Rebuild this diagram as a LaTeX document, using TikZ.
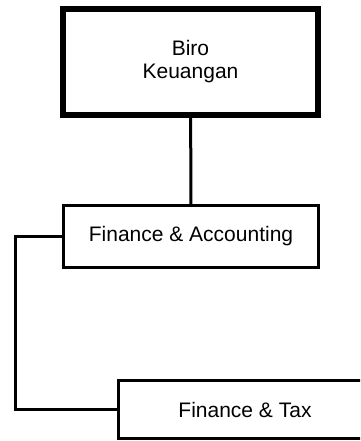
\documentclass[tikz,border=0pt]{standalone}
\usepackage{fontspec}
\setmainfont{Liberation Sans}
\usepackage{tikz}

\begin{document}
\begin{tikzpicture}[x=1pt,y=-1pt]
		\tikzstyle{every node}=[draw,rectangle,font=\fontsize{21}{23}\selectfont]
		\tikzstyle{unit}=[line width=3pt,minimum width=255pt,minimum height=62pt]
		\tikzstyle{head}=[line width=6pt,minimum width=255pt,minimum height=106pt,align=center]

		\clip (0,0) rectangle (360,441);

		\node[head] (BK) at (190.5, 62) {Biro\\Keuangan};
		\node[unit] (FA) at (191, 236.5) {Finance \& Accounting};
		\node[unit,minimum width=253pt,minimum height=58pt] (FT) at (245, 409.5) {Finance \& Tax};
		\coordinate (bend) at (15, 320);

		\path[line width=3pt]
			(BK) edge (FA);
		\draw[line width=3pt]
			(FA.west) -| (bend) |- (FT.west);
	\end{tikzpicture}
\end{document}
